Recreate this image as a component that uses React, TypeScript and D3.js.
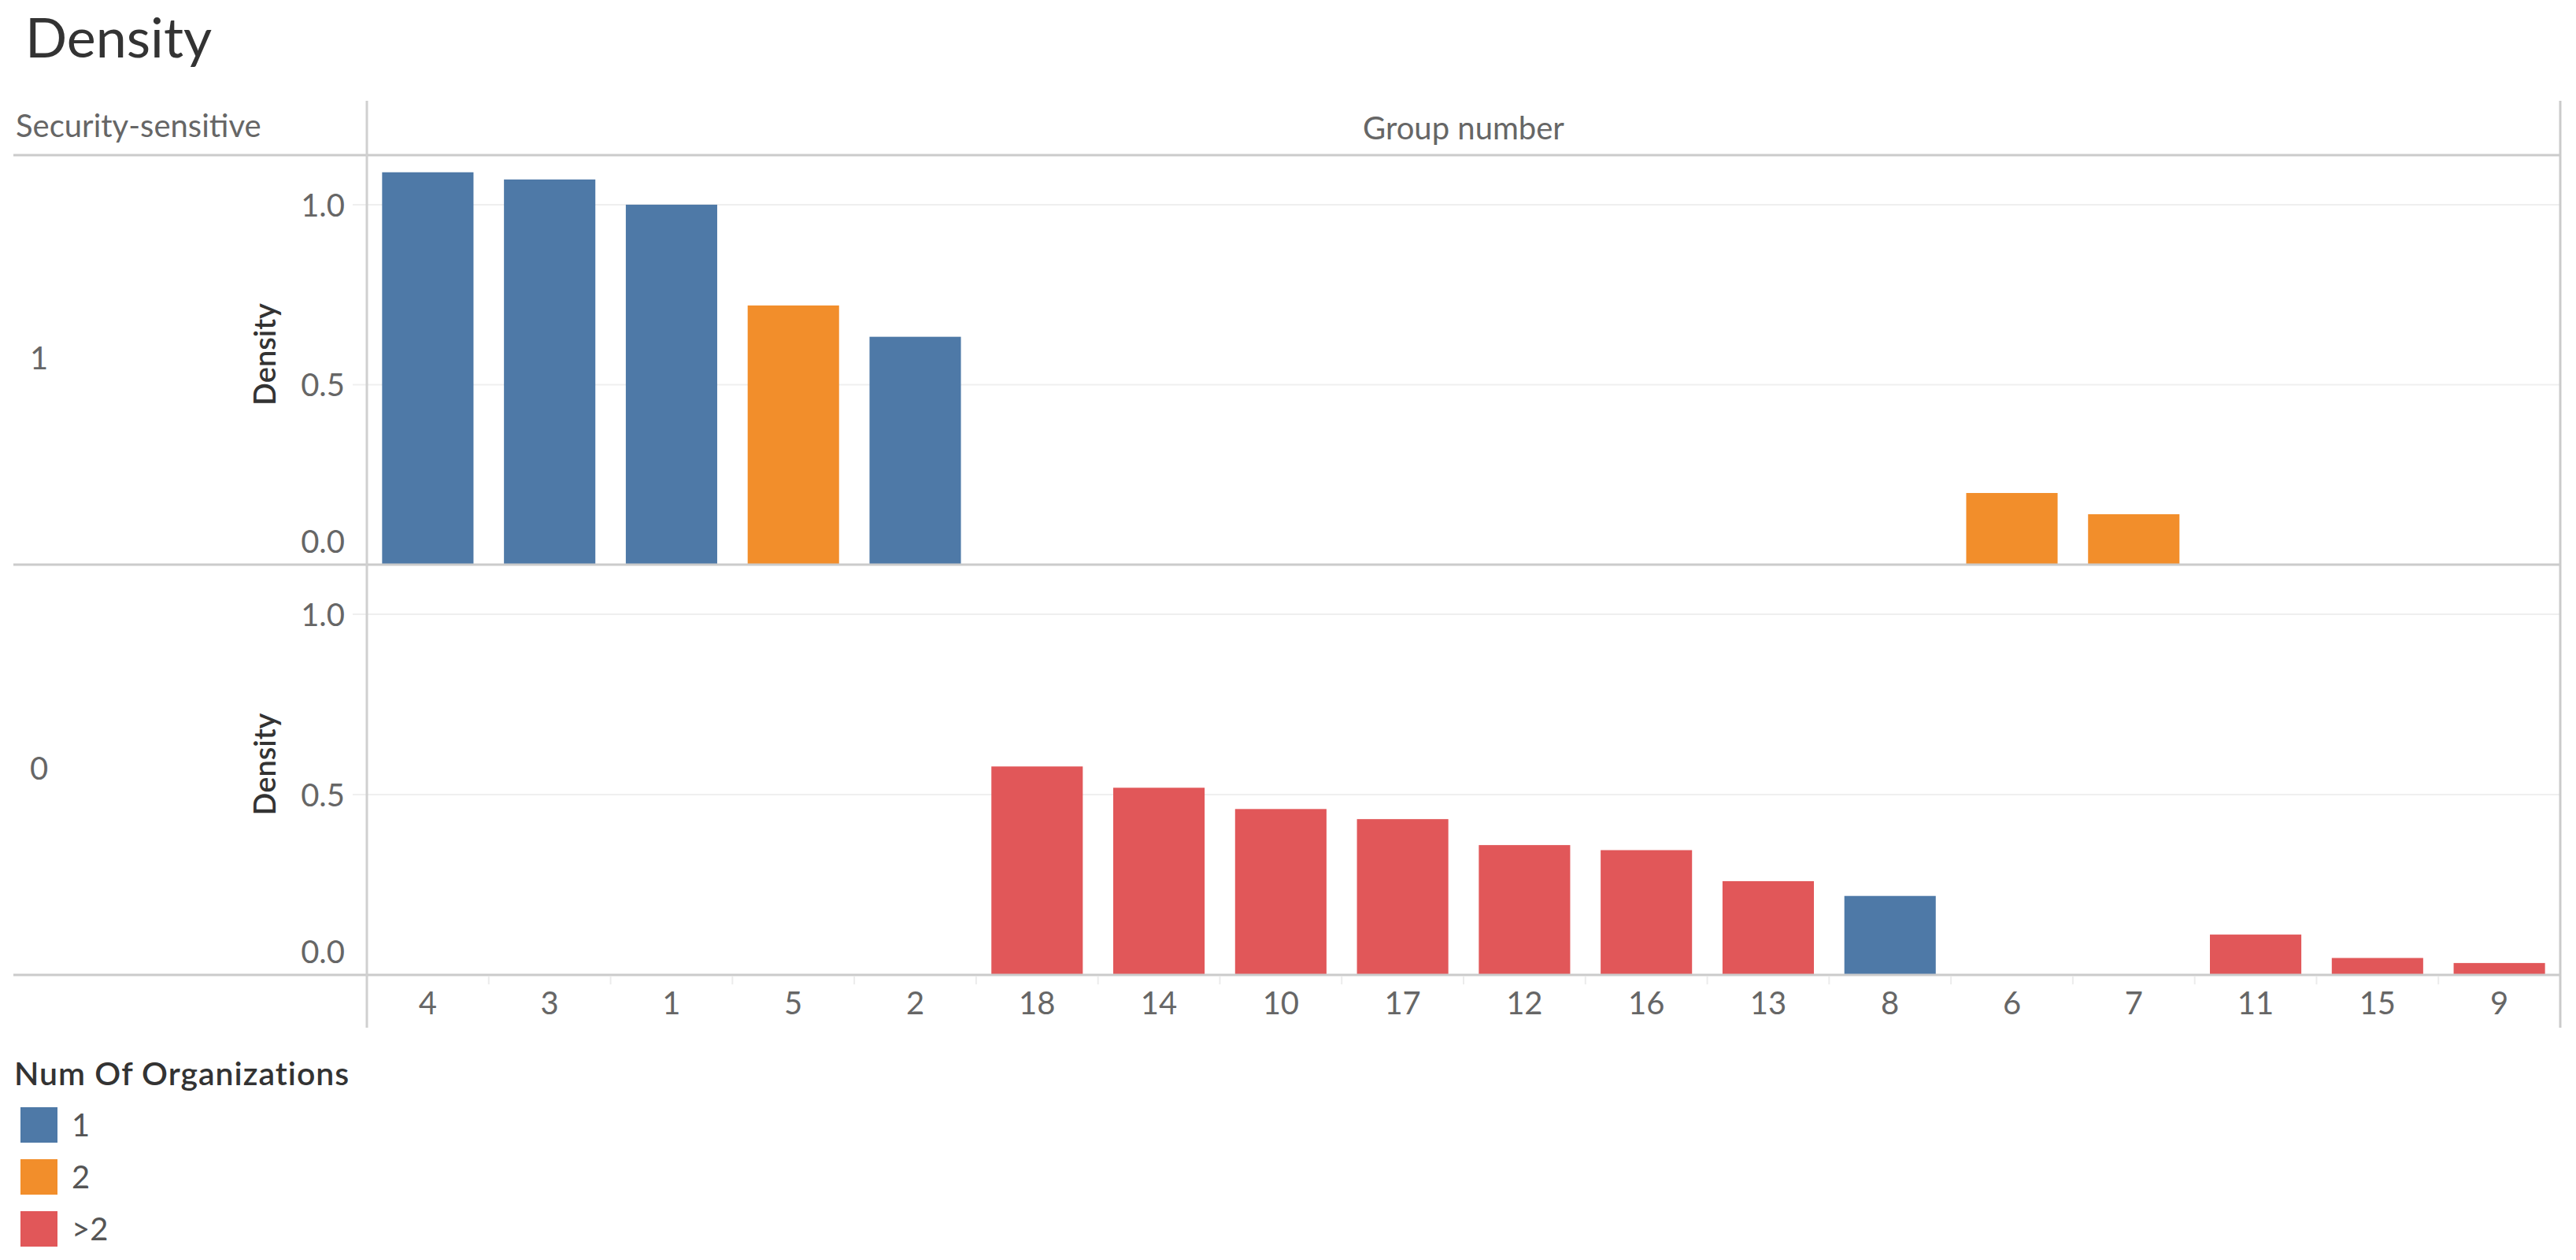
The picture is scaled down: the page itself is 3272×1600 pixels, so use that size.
import React from "react";
import * as d3 from "d3";

const categories = ["4", "3", "1", "5", "2", "18", "14", "10", "17", "12", "16", "13", "8", "6", "7", "11", "15", "9"];
const orgGroup: Record<string, string> = {
  "4": "1", "3": "1", "1": "1", "2": "1", "8": "1",
  "5": "2", "6": "2", "7": "2",
  "18": ">2", "14": ">2", "10": ">2", "17": ">2", "12": ">2", "16": ">2", "13": ">2", "11": ">2", "15": ">2", "9": ">2",
};
const rowKeys = ["1", "0"];
const sensitiveValues: [string, number][] = [
  ["4", 1.09], ["3", 1.07], ["1", 1.0], ["5", 0.72], ["2", 0.633], ["6", 0.199], ["7", 0.14],
];
const nonSensitiveValues: [string, number][] = [
  ["18", 0.578], ["14", 0.519], ["10", 0.46], ["17", 0.432], ["12", 0.36], ["16", 0.346],
  ["13", 0.26], ["8", 0.219], ["11", 0.112], ["15", 0.047], ["9", 0.033],
];
const legendKeys = ["1", "2", ">2"];
const legendColors = ["#4e79a7", "#f28e2b", "#e15759"];
const yTicks = [0, 0.5, 1.0];

const FONT = "Lato, 'Open Sans', sans-serif";

export default function App() {
  const W = 3272, H = 1600;
  const left = 466, right = 3252;
  const rowTop = [197, 717];
  const rowBottom = [717, 1238];
  const x = d3.scaleBand<string>().domain(categories).range([left, right]).paddingInner(0.25).paddingOuter(0.125);
  const color = d3.scaleOrdinal<string, string>().domain(legendKeys).range(legendColors);
  const rowsData = [sensitiveValues, nonSensitiveValues];
  const step = (right - left) / categories.length;

  return (
    <div style={{ position: "fixed", left: 0, top: 0, background: "#fff" }}>
      <svg width={W} height={H} style={{ display: "block", fontFamily: FONT }}>
        <rect width={W} height={H} fill="#fff" />
        <text x={32} y={73} fontSize={70} fill="#333">Density</text>
        <text x={20} y={174} fontSize={40} fill="#666">Security-sensitive</text>
        <text x={(left + right) / 2} y={177} fontSize={40} fill="#666" textAnchor="middle">Group number</text>

        {rowKeys.map((rk, ri) => {
          const y = d3.scaleLinear().domain([0, 1.1376]).range([rowBottom[ri], rowTop[ri]]);
          const mid = (rowTop[ri] + rowBottom[ri]) / 2;
          return (
            <g key={rk}>
              {yTicks.filter((t) => t > 0).map((t) => (
                <line key={t} x1={448} x2={right} y1={y(t)} y2={y(t)} stroke="#efefef" strokeWidth={2} />
              ))}
              {yTicks.map((t) => (
                <text key={t} x={438} y={t === 0 ? y(t) - 30 : y(t)} fontSize={40} fill="#666" textAnchor="end" dominantBaseline="central">
                  {d3.format(".1f")(t)}
                </text>
              ))}
              <text transform={`translate(350,${mid - 7}) rotate(-90)`} fontSize={38} fontWeight={600} fill="#333" textAnchor="middle">Density</text>
              <text x={38} y={mid + 12} fontSize={40} fill="#666">{rk}</text>
              {rowsData[ri].map(([c, v]) => (
                <rect key={c} x={x(c)} width={x.bandwidth()} y={y(v)} height={y(0) - y(v)} fill={color(orgGroup[c])} />
              ))}
            </g>
          );
        })}

        {/* frame lines */}
        <line x1={17} x2={right} y1={197} y2={197} stroke="#cbcbcb" strokeWidth={3} />
        <line x1={17} x2={right} y1={717} y2={717} stroke="#cbcbcb" strokeWidth={3} />
        <line x1={17} x2={right} y1={1238} y2={1238} stroke="#cbcbcb" strokeWidth={3} />
        <line x1={left} x2={left} y1={128} y2={1305} stroke="#d0d0d0" strokeWidth={3} />
        <line x1={right} x2={right} y1={128} y2={1305} stroke="#cbcbcb" strokeWidth={3} />

        {categories.slice(1).map((c, i) => (
          <line key={c} x1={left + (i + 1) * step} x2={left + (i + 1) * step} y1={1240} y2={1250} stroke="#ececec" strokeWidth={2} />
        ))}
        {categories.map((c) => (
          <text key={c} x={(x(c) as number) + x.bandwidth() / 2} y={1288} fontSize={40} fill="#666" textAnchor="middle">{c}</text>
        ))}

        {/* legend */}
        <text x={18} y={1378} fontSize={41} fontWeight={600} fill="#333" letterSpacing={1}>Num Of Organizations</text>
        {legendKeys.map((k, i) => (
          <g key={k}>
            <rect x={26} y={1406 + i * 66} width={47} height={45} fill={color(k)} />
            <text x={91} y={1406 + i * 66 + 37} fontSize={40} fill="#555">{k}</text>
          </g>
        ))}
      </svg>
    </div>
  );
}
